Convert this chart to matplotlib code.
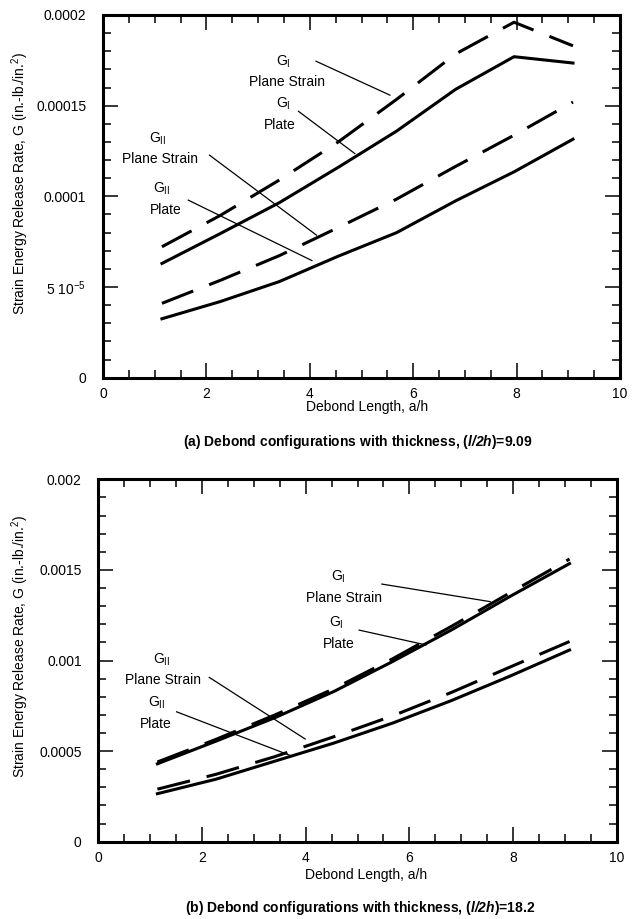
import matplotlib
matplotlib.use("Agg")
import matplotlib.pyplot as plt
from matplotlib.ticker import MultipleLocator, FixedLocator, FixedFormatter

plt.rcParams['font.family'] = ['Liberation Sans', 'DejaVu Sans']
plt.rcParams['mathtext.fontset'] = 'custom'
plt.rcParams['mathtext.rm'] = 'Liberation Sans'
plt.rcParams['mathtext.it'] = 'Liberation Sans:italic'
plt.rcParams['mathtext.bf'] = 'Liberation Sans:bold'
plt.rcParams['mathtext.bfit'] = 'Liberation Sans:italic:bold'
plt.rcParams['font.size'] = 10

# Debond length a/h (same stations for both thicknesses)
a_h = [1.14, 2.27, 3.41, 4.55, 5.68, 6.82, 7.95, 9.09]

# (a) l/2h = 9.09
gI_ps_a = [7.22e-5, 8.95e-5, 1.09e-4, 1.30e-4, 1.535e-4, 1.785e-4, 1.96e-4, 1.83e-4]
gI_pl_a = [6.3e-5, 7.95e-5, 9.65e-5, 1.16e-4, 1.36e-4, 1.59e-4, 1.77e-4, 1.735e-4]
gII_ps_a = [4.1e-5, 5.37e-5, 6.73e-5, 8.28e-5, 9.85e-5, 1.165e-4, 1.337e-4, 1.52e-4]
gII_pl_a = [3.25e-5, 4.2e-5, 5.3e-5, 6.7e-5, 8.0e-5, 9.75e-5, 1.135e-4, 1.315e-4]

# (b) l/2h = 18.2
gI_ps_b = [4.4e-4, 5.65e-4, 7.0e-4, 8.45e-4, 1.01e-3, 1.19e-3, 1.375e-3, 1.56e-3]
gI_pl_b = [4.3e-4, 5.55e-4, 6.85e-4, 8.3e-4, 9.95e-4, 1.17e-3, 1.355e-3, 1.535e-3]
gII_ps_b = [2.9e-4, 3.72e-4, 4.7e-4, 5.8e-4, 6.95e-4, 8.25e-4, 9.65e-4, 1.105e-3]
gII_pl_b = [2.65e-4, 3.45e-4, 4.45e-4, 5.45e-4, 6.55e-4, 7.8e-4, 9.15e-4, 1.058e-3]

x_ticks = [0, 2, 4, 6, 8, 10]
x_labels = ['0', '2', '4', '6', '8', '10']
y_ticks_a = [0, 5e-5, 1e-4, 1.5e-4, 2e-4]
y_labels_a = ['0', '5 10$^{-5}$', '0.0001', '0.00015', '0.0002']
y_ticks_b = [0, 5e-4, 1e-3, 1.5e-3, 2e-3]
y_labels_b = ['0', '0.0005', '0.001', '0.0015', '0.002']

GI = r'G$_\mathrm{I}$'
GII = r'G$_\mathrm{II}$'

# annotation text positions and leader lines (data coords)
notes_a = [
    (GI, 'Plane Strain', (3.48, 1.744e-4), (3.56, 1.629e-4), (4.12, 1.745e-4), (5.55, 1.558e-4)),
    (GI, 'Plate', (3.48, 1.508e-4), (3.42, 1.393e-4), (3.78, 1.469e-4), (4.87, 1.236e-4)),
    (GII, 'Plane Strain', (1.06, 1.32e-4), (1.10, 1.205e-4), (2.06, 1.227e-4), (4.13, 7.86e-5)),
    (GII, 'Plate', (1.135, 1.04e-4), (1.21, 9.24e-5), (1.65, 9.79e-5), (4.04, 6.46e-5)),
]
notes_b = [
    (GI, 'Plane Strain', (4.63, 1.462e-3), (4.73, 1.343e-3), (5.47, 1.422e-3), (7.56, 1.325e-3)),
    (GI, 'Plate', (4.60, 1.209e-3), (4.63, 1.091e-3), (5.03, 1.168e-3), (6.32, 1.086e-3)),
    (GII, 'Plane Strain', (1.22, 1.003e-3), (1.25, 8.92e-4), (2.14, 9.07e-4), (3.99, 5.67e-4)),
    (GII, 'Plate', (1.13, 7.64e-4), (1.11, 6.48e-4), (1.51, 7.17e-4), (3.73, 4.73e-4)),
]

dash = (0, (11, 5.6))
lw = 2.2

fig = plt.figure(figsize=(6.35, 9.19), dpi=100)
ax1 = fig.add_axes([0.1622, 0.589, 0.8142, 0.3947])
ax2 = fig.add_axes([0.1548, 0.0841, 0.8164, 0.3943])


def style_axes(ax, yticks, ylabels, ymax, yminor):
    ax.set_xlim(0, 10)
    ax.set_ylim(0, ymax)
    ax.xaxis.set_major_locator(FixedLocator(x_ticks))
    ax.xaxis.set_major_formatter(FixedFormatter(x_labels))
    ax.xaxis.set_minor_locator(MultipleLocator(0.5))
    ax.yaxis.set_major_locator(FixedLocator(yticks))
    ax.yaxis.set_major_formatter(FixedFormatter(ylabels))
    ax.yaxis.set_minor_locator(MultipleLocator(yminor))
    ax.tick_params(which='both', direction='in', top=True, right=True, width=1.1)
    ax.tick_params(which='major', length=11)
    ax.tick_params(which='minor', length=5.5)
    ax.tick_params(axis='y', pad=12, labelsize=10)
    ax.tick_params(axis='x', pad=7, labelsize=10)
    for s in ax.spines.values():
        s.set_linewidth(2.2)
    ax.set_xlabel('Debond Length, a/h', fontsize=10)
    ax.set_ylabel('Strain Energy Release Rate, G (in.-lb./in.$^2$)', fontsize=10)


def draw(ax, ps_I, pl_I, ps_II, pl_II, notes):
    ax.plot(a_h, ps_I, color='black', lw=lw, linestyle=dash)
    ax.plot(a_h, pl_I, color='black', lw=lw)
    ax.plot(a_h, ps_II, color='black', lw=lw, linestyle=dash)
    ax.plot(a_h, pl_II, color='black', lw=lw)
    for g, name, gpos, npos, p0, p1 in notes:
        ax.text(gpos[0], gpos[1], g, ha='center', va='center', fontsize=10)
        ax.text(npos[0], npos[1], name, ha='center', va='center', fontsize=10)
        ax.plot([p0[0], p1[0]], [p0[1], p1[1]], color='black', lw=0.9)


style_axes(ax1, y_ticks_a, y_labels_a, 2e-4, 1e-5)
style_axes(ax2, y_ticks_b, y_labels_b, 2e-3, 1e-4)
draw(ax1, gI_ps_a, gI_pl_a, gII_ps_a, gII_pl_a, notes_a)
draw(ax2, gI_ps_b, gI_pl_b, gII_ps_b, gII_pl_b, notes_b)

ax1.yaxis.set_label_coords(-0.139, 0.536)
ax2.yaxis.set_label_coords(-0.130, 0.540)
ax1.xaxis.set_label_coords(0.51, -0.061)
ax2.xaxis.set_label_coords(0.516, -0.073)

fig.text(0.564, 1 - 442 / 919, r'(a) Debond configurations with thickness, ($\mathbfit{l/2h}$)=9.09',
         ha='center', va='center', fontsize=10, fontweight='bold')
fig.text(0.567, 1 - 908 / 919, r'(b) Debond configurations with thickness, ($\mathbfit{l/2h}$)=18.2',
         ha='center', va='center', fontsize=10, fontweight='bold')

fig.savefig('out.png', dpi=100)
